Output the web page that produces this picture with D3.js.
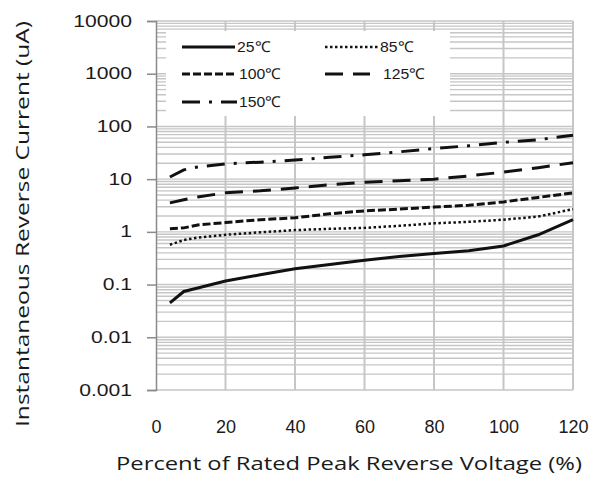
<!DOCTYPE html>
<html>
<head>
<meta charset="utf-8">
<script src="https://cdn.jsdelivr.net/npm/d3@7"></script>
<style>
  body { margin: 0; background: #fff; }
  text { font-family: "Liberation Sans", Arial, sans-serif; fill: #1a1a1a; }
</style>
</head>
<body>
<div id="chart"></div>
<script>
// percent of rated peak reverse voltage
const pct = [4, 8, 12, 20, 30, 40, 50, 60, 70, 80, 90, 100, 110, 120];

// reverse current (uA) per temperature
const i25  = [0.045, 0.074, 0.086, 0.117, 0.153, 0.2, 0.24, 0.29, 0.34, 0.39, 0.44, 0.54, 0.88, 1.7];
const i85  = [0.57, 0.7, 0.78, 0.88, 0.98, 1.08, 1.14, 1.19, 1.3, 1.45, 1.55, 1.7, 1.95, 2.7];
const i100 = [1.14, 1.19, 1.35, 1.5, 1.7, 1.85, 2.2, 2.5, 2.7, 2.95, 3.2, 3.7, 4.5, 5.5];
const i125 = [3.55, 4.05, 4.6, 5.5, 6.0, 6.8, 7.8, 8.7, 9.3, 10, 11.5, 13.6, 16.5, 20.5];
const i150 = [11, 15, 17, 19.5, 21, 23, 26, 29, 33, 38, 43, 50, 56, 68];

const seriesNames = ["25℃", "85℃", "100℃", "125℃", "150℃"];
const xTicks = [0, 20, 40, 60, 80, 100, 120];
const yTicks = [0.001, 0.01, 0.1, 1, 10, 100, 1000, 10000];

const W = 592, H = 481;
const svg = d3.select("#chart").append("svg")
    .attr("width", W).attr("height", H);

const x = d3.scaleLinear().domain([0, 120]).range([156, 573]);
const y = d3.scaleLog().domain([0.001, 10000]).range([390, 21]);

// stretch text horizontally (reference is a wide raster)
function stretch(sel, k) {
    sel.each(function () {
        const len = this.getComputedTextLength();
        d3.select(this).attr("textLength", len * k).attr("lengthAdjust", "spacingAndGlyphs");
    });
}

// horizontal grid: every log minor step
const minor = [];
yTicks.forEach((t, i) => {
    if (i === yTicks.length - 1) { minor.push(t); return; }
    for (let m = 1; m < 10; m++) minor.push(t * m);
});
svg.append("g").selectAll("line").data(minor).enter().append("line")
    .attr("x1", x(0)).attr("x2", x(120))
    .attr("y1", d => y(d)).attr("y2", d => y(d))
    .attr("stroke", "#c6c6c6").attr("stroke-width", 1.4);

// vertical grid
svg.append("g").selectAll("line").data(xTicks.slice(1)).enter().append("line")
    .attr("x1", d => x(d)).attr("x2", d => x(d))
    .attr("y1", y(10000)).attr("y2", y(0.001))
    .attr("stroke", "#c6c6c6").attr("stroke-width", 2);

// legend background hides the grid
svg.append("rect")
    .attr("x", 166).attr("y", 31).attr("width", 284).attr("height", 85)
    .attr("fill", "#fff");

// y axis
const yAxis = svg.append("g")
    .attr("transform", `translate(${x(0)},0)`)
    .call(d3.axisLeft(y).tickValues(yTicks).tickSize(9).tickPadding(15)
        .tickFormat(d => d3.format("~g")(d)));
yAxis.select(".domain").attr("stroke", "#8a8a8a").attr("stroke-width", 1.5);
yAxis.selectAll(".tick line").attr("stroke", "#8a8a8a").attr("stroke-width", 1.5);
yAxis.selectAll(".tick text")
    .attr("font-size", "16px").attr("fill", "#1a1a1a")
    .style("font-family", "'Liberation Sans', Arial, sans-serif");
stretch(yAxis.selectAll(".tick text"), 1.32);

// x tick labels
const xAxis = svg.append("g")
    .attr("transform", `translate(0,${y(0.001)})`)
    .call(d3.axisBottom(x).tickValues(xTicks).tickSize(0).tickPadding(30));
xAxis.select(".domain").remove();
xAxis.selectAll(".tick text")
    .attr("font-size", "18px").attr("fill", "#1a1a1a")
    .style("font-family", "'Liberation Sans', Arial, sans-serif");

// series
const series = [
    { name: seriesNames[0], vals: i25,  dash: null,          w: 3 },
    { name: seriesNames[1], vals: i85,  dash: "2.5,2.5",     w: 2.5 },
    { name: seriesNames[2], vals: i100, dash: "8,3",         w: 3 },
    { name: seriesNames[3], vals: i125, dash: "18,10",       w: 3 },
    { name: seriesNames[4], vals: i150, dash: "18,9,3,9",    w: 3 }
];

const line = d3.line()
    .x(d => x(d[0]))
    .y(d => y(d[1]));

svg.append("g").selectAll("path").data(series).enter().append("path")
    .attr("d", s => line(pct.map((p, i) => [p, s.vals[i]])))
    .attr("fill", "none")
    .attr("stroke", "#111")
    .attr("stroke-width", s => s.w)
    .attr("stroke-dasharray", s => s.dash);

// legend
const legPos = [[182, 47], [325, 47], [182, 74], [325, 74], [182, 102]];
const legLen = [53, 53, 55, 45, 55];
const leg = svg.append("g").selectAll("g").data(series).enter().append("g")
    .attr("transform", (d, i) => `translate(${legPos[i][0]},${legPos[i][1]})`);
leg.append("line")
    .attr("x1", 0).attr("x2", (d, i) => legLen[i])
    .attr("y1", 0).attr("y2", 0)
    .attr("stroke", "#111")
    .attr("stroke-width", d => d.w)
    .attr("stroke-dasharray", d => d.dash);
const legText = leg.append("text")
    .attr("x", (d, i) => (i === 3 ? 58 : legLen[i] + 2))
    .attr("dy", "0.36em")
    .attr("font-size", "15px")
    .text(d => d.name);
stretch(legText, 1.05);

// axis titles
svg.append("text")
    .attr("x", 349).attr("y", 470)
    .attr("text-anchor", "middle")
    .attr("font-size", "19px")
    .style("font-family", "'Open Sans', 'Liberation Sans', sans-serif")
    .attr("textLength", 466).attr("lengthAdjust", "spacingAndGlyphs")
    .text("Percent of Rated Peak Reverse Voltage (%)");

svg.append("text")
    .attr("transform", "translate(29,224) rotate(-90)")
    .attr("text-anchor", "middle")
    .attr("font-size", "18px")
    .style("font-family", "'Open Sans', 'Liberation Sans', sans-serif")
    .attr("textLength", 406).attr("lengthAdjust", "spacingAndGlyphs")
    .text("Instantaneous Reverse Current (uA)");
</script>
</body>
</html>
